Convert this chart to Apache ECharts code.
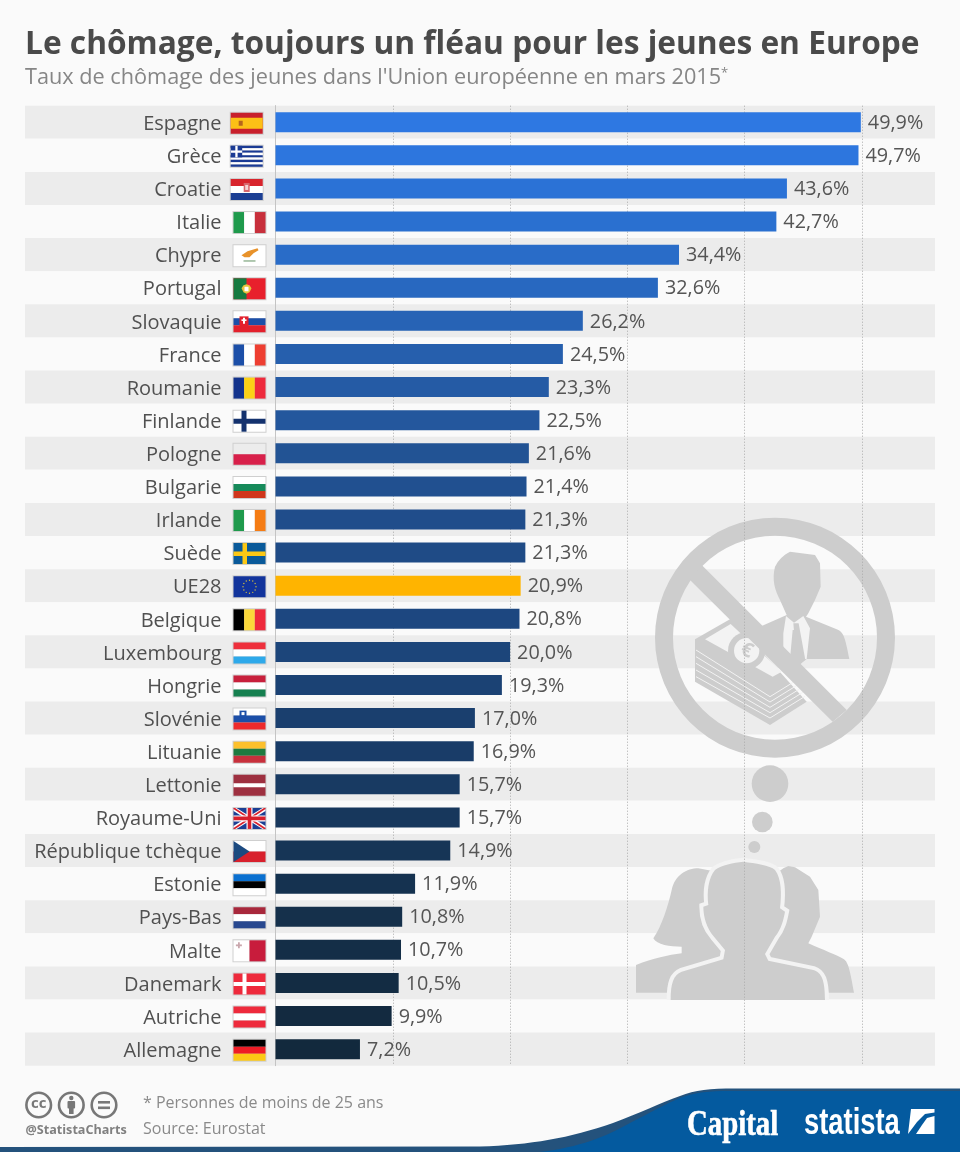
<!DOCTYPE html>
<html>
<head>
<meta charset="utf-8">
<title>Chômage des jeunes</title>
<style>
html, body { margin: 0; padding: 0; background: #fafafa; }
#chart { width: 960px; height: 1152px; }
</style>
<script src="https://cdn.jsdelivr.net/npm/echarts@6/dist/echarts.min.js"></script>
</head>
<body>
<div id="chart"></div>
<script>
const countries = ['Espagne', 'Grèce', 'Croatie', 'Italie', 'Chypre', 'Portugal', 'Slovaquie', 'France', 'Roumanie', 'Finlande',
  'Pologne', 'Bulgarie', 'Irlande', 'Suède', 'UE28', 'Belgique', 'Luxembourg', 'Hongrie', 'Slovénie', 'Lituanie',
  'Lettonie', 'Royaume-Uni', 'République tchèque', 'Estonie', 'Pays-Bas', 'Malte', 'Danemark', 'Autriche', 'Allemagne'];
const rates = [49.9, 49.7, 43.6, 42.7, 34.4, 32.6, 26.2, 24.5, 23.3, 22.5,
  21.6, 21.4, 21.3, 21.3, 20.9, 20.8, 20.0, 19.3, 17.0, 16.9,
  15.7, 15.7, 14.9, 11.9, 10.8, 10.7, 10.5, 9.9, 7.2];

// bar colours, top to bottom
const barColors = ['#2e78e2', '#2d76de', '#2b72d6', '#2a70d0', '#296cc8', '#2868c0', '#2763b5', '#265fad', '#255ba5', '#24579d',
  '#225394', '#215090', '#204d8b', '#1f4b86', '#ffb400', '#1d4780', '#1c457a', '#1b4274', '#1a3f6e', '#193c68',
  '#183a62', '#17375c', '#163556', '#153250', '#15304b', '#142e47', '#132c43', '#132a40', '#12293d'];

// flags in a 32x21 box: [x, y, w, h, colour] rectangles, or [points, colour] polygons
function hStripes(...cols) {
  return cols.map((c, i) => [0, i * 21 / cols.length, 32, 21 / cols.length, c]);
}
function vStripes(...cols) {
  return cols.map((c, i) => [i * 32 / cols.length, 0, 32 / cols.length, 21, c]);
}
const flags = {
  'Espagne': [[0, 0, 32, 21, '#c8202c'], [0, 5, 32, 11, '#fcc016'], [8, 8, 4, 5, '#b5651d']],
  'Grèce': [...[0, 1, 2, 3, 4, 5, 6, 7, 8].map(i => [0, i * 21 / 9, 32, 21 / 9, i % 2 ? '#ffffff' : '#1a3a94']),
    [0, 0, 11.5, 11.5, '#1a3a94'], [4.6, 0, 2.3, 11.5, '#ffffff'], [0, 4.6, 11.5, 2.3, '#ffffff']],
  'Croatie': [...hStripes('#d8242c', '#ffffff', '#1c3f94'), [13, 4, 6, 9, '#d9656b'], [14.5, 6, 3, 5, '#f3d3d3']],
  'Italie': vStripes('#1f9a4c', '#ffffff', '#c8303c'),
  'Chypre': [[0, 0, 32, 21, '#ffffff'], [[[8, 10], [14, 6], [24, 3], [25, 5], [20, 8], [16, 12], [11, 12]], '#e8922a'], [10, 15, 12, 1.6, '#9dbb9d']],
  'Portugal': [[0, 0, 32, 21, '#e8202c'], [0, 0, 13, 21, '#167a40'], [[[13, 6], [16, 7], [18, 10], [16, 14], [13, 15.5], [10, 14], [8, 10], [10, 7]], '#e8c23c'], [11, 8.5, 4, 4.5, '#ffffff']],
  'Slovaquie': [...hStripes('#ffffff', '#1c4fa8', '#e3202c'), [6, 5, 9, 11, '#e3202c'], [9.5, 6.5, 2, 6, '#ffffff'], [8, 8, 5, 1.6, '#ffffff']],
  'France': vStripes('#1c4fa8', '#ffffff', '#ee3f32'),
  'Roumanie': vStripes('#13338c', '#fcd116', '#ee2a3c'),
  'Finlande': [[0, 0, 32, 21, '#ffffff'], [8, 0, 5, 21, '#14326e'], [0, 8, 32, 5, '#14326e']],
  'Pologne': hStripes('#ececec', '#d8204a'),
  'Bulgarie': hStripes('#ffffff', '#168a5a', '#d0361c'),
  'Irlande': vStripes('#1f9a4c', '#ffffff', '#f57c14'),
  'Suède': [[0, 0, 32, 21, '#0a5a9a'], [9, 0, 4.5, 21, '#fcc815'], [0, 8.3, 32, 4.5, '#fcc815']],
  'UE28': [[0, 0, 32, 21, '#12349c']],
  'Belgique': vStripes('#000000', '#fcd83a', '#ee2a3c'),
  'Luxembourg': hStripes('#ee2f3c', '#ffffff', '#2ea9ea'),
  'Hongrie': hStripes('#c8203c', '#ffffff', '#168050'),
  'Slovénie': [...hStripes('#ffffff', '#1c4fa8', '#ee2a2c'), [6, 2, 7, 7, '#1c4fa8'], [8, 3.5, 3, 3, '#ffffff']],
  'Lituanie': hStripes('#fcc02c', '#1f7a40', '#c8303c'),
  'Lettonie': [[0, 0, 32, 21, '#9e3040'], [0, 8.5, 32, 4, '#ffffff']],
  'Royaume-Uni': [[0, 0, 32, 21, '#1c3f94'],
    [[[0, 0], [3, 0], [32, 18], [32, 21], [29, 21], [0, 3]], '#ffffff'],
    [[[32, 0], [29, 0], [0, 18], [0, 21], [3, 21], [32, 3]], '#ffffff'],
    [[[0, 0], [1.6, 0], [32, 20], [32, 21], [30.4, 21], [0, 1]], '#d8202c'],
    [[[32, 0], [30.4, 0], [0, 20], [0, 21], [1.6, 21], [32, 1]], '#d8202c'],
    [13, 0, 6, 21, '#ffffff'], [0, 7.5, 32, 6, '#ffffff'],
    [14.2, 0, 3.6, 21, '#d8202c'], [0, 8.7, 32, 3.6, '#d8202c']],
  'République tchèque': [...hStripes('#ffffff', '#d8202c'), [[[0, 0], [16, 10.5], [0, 21]], '#1c4a80']],
  'Estonie': hStripes('#0a70d0', '#000000', '#ffffff'),
  'Pays-Bas': hStripes('#a8283c', '#ffffff', '#28488f'),
  'Malte': [[0, 0, 16, 21, '#ffffff'], [16, 0, 16, 21, '#c81c3c'], [4.5, 2, 1.8, 6, '#c9a7ad'], [2.4, 4.1, 6, 1.8, '#c9a7ad']],
  'Danemark': [[0, 0, 32, 21, '#ee2a3c'], [9, 0, 4, 21, '#ffffff'], [0, 8.5, 32, 4, '#ffffff']],
  'Autriche': hStripes('#ee2a3c', '#ffffff', '#ee2a3c'),
  'Allemagne': hStripes('#000000', '#ee1c25', '#fcc815')
};
const flagShift = { 'Espagne': -2.8, 'Grèce': -2.8, 'Croatie': -2.8 };

function renderFlag(params, api) {
  const name = countries[params.dataIndex];
  const p = api.coord([0, params.dataIndex]);
  const x0 = p[0] - 42 + (flagShift[name] || 0);
  const y0 = p[1] - 9.5;
  const children = [{
    type: 'rect',
    shape: { x: x0 - 1, y: y0 - 1, width: 34, height: 23 },
    style: { fill: '#cfcfcf' }
  }];
  flags[name].forEach(s => {
    if (Array.isArray(s[0])) {
      children.push({
        type: 'polygon',
        shape: { points: s[0].map(q => [x0 + q[0], y0 + q[1]]) },
        style: { fill: s[1] }
      });
    } else {
      children.push({
        type: 'rect',
        shape: { x: x0 + s[0], y: y0 + s[1], width: s[2], height: s[3] },
        style: { fill: s[4] }
      });
    }
  });
  if (name === 'UE28') {
    for (let i = 0; i < 12; i++) {
      const a = i * Math.PI / 6;
      children.push({
        type: 'circle',
        shape: { cx: x0 + 16 + 6.5 * Math.cos(a), cy: y0 + 10.5 + 6.5 * Math.sin(a), r: 0.7 },
        style: { fill: '#d8c23c' }
      });
    }
  }
  return { type: 'group', children };
}

const grey = '#cdcdcd';
const light = '#f3f3f3';
const centreOutline = 'M92 1500C92 1450 100 1425 125 1415L250 1378L255 1350L222 1310C200 1285 190 1250 190 1220L205 1215C200 1175 205 1135 225 1110C245 1095 280 1088 310 1085C345 1090 390 1095 405 1110C425 1135 425 1185 420 1225L435 1235C430 1260 425 1285 405 1310L375 1362L385 1382L520 1410C545 1418 555 1440 555 1500';

// drawing is in zoomed units: three to a pixel, from (640,500)
const pictogram = [
  // people
  { type: 'path', shape: { pathData: 'M-12 1478L-12 1395C40 1375 85 1365 125 1360L125 1340C90 1340 50 1335 40 1315C65 1280 85 1215 95 1170C105 1125 140 1105 175 1105L230 1115L250 1400L250 1478Z' }, style: { fill: grey } },
  { type: 'path', shape: { pathData: 'M430 1105L445 1098L465 1102L510 1130L535 1170L540 1250L515 1310L505 1330C550 1350 590 1365 612 1378C625 1388 630 1410 642 1478L300 1478L300 1200Z' }, style: { fill: grey } },
  { type: 'path', shape: { pathData: centreOutline }, style: { fill: 'none', stroke: light, lineWidth: 24 } },
  { type: 'path', shape: { pathData: centreOutline + 'Z' }, style: { fill: grey } },
  // thought bubbles
  { type: 'circle', shape: { cx: 390, cy: 851, r: 55 }, style: { fill: grey } },
  { type: 'circle', shape: { cx: 367, cy: 966, r: 31 }, style: { fill: grey } },
  { type: 'circle', shape: { cx: 343, cy: 1041, r: 18 }, style: { fill: grey } },
  // man in a suit
  { type: 'path', shape: { pathData: 'M450 155L525 165L540 190L542 260L525 300L505 340L498 350L590 388C610 395 615 410 628 477L500 477L480 490L360 380L440 345L420 300C405 270 395 240 405 200C415 180 430 165 450 155Z' }, style: { fill: grey } },
  { type: 'polygon', shape: { points: [[438, 348], [462, 368], [490, 348], [510, 385], [500, 477], [490, 477], [476, 390], [458, 390], [450, 477], [430, 440], [430, 400]] }, style: { fill: light } },
  { type: 'polygon', shape: { points: [[460, 370], [476, 370], [480, 392], [496, 480], [472, 500], [452, 470], [462, 392]] }, style: { fill: grey } },
  // banknotes
  { type: 'polygon', shape: { points: [[165, 418], [275, 355], [500, 605], [390, 675], [165, 545]] }, style: { fill: grey } },
  { type: 'polyline', shape: { points: [[168, 450], [390, 590], [495, 525]] }, style: { fill: 'none', stroke: light, lineWidth: 3 } },
  { type: 'polyline', shape: { points: [[168, 470], [390, 606], [495, 541]] }, style: { fill: 'none', stroke: light, lineWidth: 3 } },
  { type: 'polyline', shape: { points: [[168, 490], [390, 622], [495, 557]] }, style: { fill: 'none', stroke: light, lineWidth: 3 } },
  { type: 'polyline', shape: { points: [[168, 510], [390, 638], [495, 573]] }, style: { fill: 'none', stroke: light, lineWidth: 3 } },
  { type: 'polyline', shape: { points: [[168, 530], [390, 654], [495, 589]] }, style: { fill: 'none', stroke: light, lineWidth: 3 } },
  { type: 'polygon', shape: { points: [[195, 418], [272, 372], [425, 515], [398, 530]] }, style: { fill: light } },
  { type: 'circle', shape: { cx: 320, cy: 452, r: 56 }, style: { fill: grey } },
  { type: 'circle', shape: { cx: 320, cy: 452, r: 38 }, style: { fill: light } },
  { type: 'text', x: 320, y: 452, rotation: -0.4, style: { text: '€', fontFamily: 'Open Sans', fontWeight: 'bold', fontSize: 60, fill: grey, align: 'center', verticalAlign: 'middle' } },
  // prohibition sign
  { type: 'ring', shape: { cx: 405, cy: 413, r: 360, r0: 306 }, style: { fill: grey } },
  { type: 'polygon', shape: { points: [[185, 195], [150, 240], [578, 665], [620, 630]] }, style: { fill: grey } }
];

const footer = [
  { type: 'path', shape: { pathData: 'M0 1147L480 1146.5C530 1145 570 1138 613 1123C640 1113 660 1103 680 1096C695 1090 710 1088.5 735 1088.5L960 1088.5L960 1152L0 1152Z' }, style: { fill: '#24527c' } },
  { type: 'path', shape: { pathData: 'M540 1152C580 1147 605 1137 630 1123C650 1113 665 1104 680 1098C695 1092 710 1091 730 1091L960 1091L960 1152Z' }, style: { fill: '#045a9f' } },
  { type: 'text', x: 687, y: 1126, scaleX: 0.8, style: { text: 'Capital', fontFamily: 'Liberation Serif', fontWeight: 'bold', fontSize: 36, fill: '#ffffff', stroke: '#ffffff', lineWidth: 0.6, verticalAlign: 'middle' } },
  { type: 'text', x: 804, y: 1124, scaleX: 0.76, style: { text: 'statista', fontFamily: 'Liberation Sans', fontWeight: 'bold', fontSize: 36, fill: '#ffffff', verticalAlign: 'middle' } },
  { type: 'polygon', shape: { points: [[911, 1109], [934.5, 1109], [934.5, 1112.5], [925, 1114], [917, 1122], [908, 1134]] }, style: { fill: '#ffffff' } },
  { type: 'polygon', shape: { points: [[934.5, 1116], [934.5, 1134], [916, 1134], [922, 1125], [927, 1118]] }, style: { fill: '#ffffff' } },
  // licence icons
  { type: 'circle', shape: { cx: 38.7, cy: 1105, r: 12.3 }, style: { fill: 'none', stroke: '#777777', lineWidth: 2.6 } },
  { type: 'text', x: 38.7, y: 1104, style: { text: 'cc', fontFamily: 'Open Sans', fontWeight: 'bold', fontSize: 15, fill: '#777777', align: 'center', verticalAlign: 'middle' } },
  { type: 'circle', shape: { cx: 71.3, cy: 1105, r: 12.3 }, style: { fill: 'none', stroke: '#777777', lineWidth: 2.6 } },
  { type: 'circle', shape: { cx: 71.3, cy: 1098, r: 2.2 }, style: { fill: '#777777' } },
  { type: 'rect', shape: { x: 67.5, y: 1101, width: 7.6, height: 7.5, r: 1 }, style: { fill: '#777777' } },
  { type: 'rect', shape: { x: 69, y: 1106, width: 4.6, height: 8 }, style: { fill: '#777777' } },
  { type: 'circle', shape: { cx: 104, cy: 1105, r: 12.3 }, style: { fill: 'none', stroke: '#777777', lineWidth: 2.6 } },
  { type: 'rect', shape: { x: 98, y: 1101, width: 12, height: 2.6 }, style: { fill: '#777777' } },
  { type: 'rect', shape: { x: 98, y: 1106.5, width: 12, height: 2.6 }, style: { fill: '#777777' } },
  { type: 'text', x: 25.5, y: 1130, style: { text: '@StatistaCharts', fontFamily: 'Open Sans', fontWeight: 'bold', fontSize: 12.6, fill: '#808080', verticalAlign: 'middle' } },
  { type: 'text', x: 143, y: 1103, style: { text: '* Personnes de moins de 25 ans', fontFamily: 'Open Sans', fontSize: 16, fill: '#8a8a8a', verticalAlign: 'middle' } },
  { type: 'text', x: 143, y: 1129, style: { text: 'Source: Eurostat', fontFamily: 'Open Sans', fontSize: 16, fill: '#8a8a8a', verticalAlign: 'middle' } }
];

const chart = echarts.init(document.getElementById('chart'), null, { renderer: 'canvas' });
chart.setOption({
  animation: false,
  backgroundColor: '#fafafa',
  textStyle: { fontFamily: 'Open Sans' },
  title: [
    {
      text: 'Le chômage, toujours un fléau pour les jeunes en Europe',
      left: 25, top: 29, padding: 0,
      textStyle: { fontFamily: 'Open Sans', fontWeight: 'bold', fontSize: 31.7, color: '#4a4a4a' }
    },
    {
      text: "Taux de chômage des jeunes dans l'Union européenne en mars 2015{s|*}",
      left: 25, top: 67, padding: 0,
      textStyle: {
        fontFamily: 'Open Sans', fontWeight: 'normal', fontSize: 21.7, color: '#868686',
        rich: { s: { fontFamily: 'Open Sans', fontSize: 13, color: '#868686', verticalAlign: 'top', padding: [0, 0, 8, 0] } }
      }
    }
  ],
  grid: [
    { left: 25, right: 25, top: 105.7, height: 960 },
    { left: 275.5, width: 586.5, top: 105.7, height: 960 }
  ],
  xAxis: [
    { gridIndex: 0, type: 'value', show: false },
    {
      gridIndex: 1, type: 'value', min: 0, max: 50, interval: 10, z: 3,
      axisLine: { show: false }, axisTick: { show: false }, axisLabel: { show: false },
      splitLine: { show: true, lineStyle: { color: '#aaaaaa', type: [1, 2], width: 1 } }
    }
  ],
  yAxis: [
    {
      gridIndex: 0, type: 'category', inverse: true, data: countries, z: 0,
      axisLine: { show: false }, axisTick: { show: false }, axisLabel: { show: false },
      splitArea: { show: true, interval: 0, areaStyle: { color: ['#ececec', '#fafafa'] } }
    },
    {
      gridIndex: 1, type: 'category', inverse: true, data: countries, z: 4,
      axisLine: { show: true, lineStyle: { color: '#c4c4c4', width: 1 } },
      axisTick: { show: false },
      axisLabel: {
        interval: 0, margin: 54, fontFamily: 'Open Sans', fontSize: 20, color: '#505050',
        formatter: '{n|{value}}',
        rich: { n: { fontFamily: 'Open Sans', fontSize: 20, color: '#505050', padding: [4, 0, 0, 0] } }
      }
    }
  ],
  series: [
    {
      type: 'custom', coordinateSystem: 'none', z: 1, silent: true, data: [0],
      renderItem: () => ({ type: 'group', x: 640, y: 500, scaleX: 1 / 3, scaleY: 1 / 3, children: pictogram })
    },
    {
      type: 'bar', xAxisIndex: 1, yAxisIndex: 1, z: 5, barWidth: 20,
      data: rates.map((v, i) => ({ value: v, itemStyle: { color: barColors[i] } })),
      label: {
        show: true, position: 'right', distance: 7, offset: [0, 1],
        fontFamily: 'Open Sans', fontSize: 19.8, color: '#555555',
        formatter: p => p.value.toFixed(1).replace('.', ',') + '%'
      }
    },
    {
      type: 'custom', xAxisIndex: 1, yAxisIndex: 1, z: 5, clip: false,
      data: rates.map((v, i) => [0, i]),
      encode: { x: 0, y: 1 },
      renderItem: renderFlag,
      silent: true
    },
    {
      type: 'custom', coordinateSystem: 'none', z: 6, silent: true, data: [0],
      renderItem: () => ({ type: 'group', children: footer })
    }
  ]
});
</script>
</body>
</html>
